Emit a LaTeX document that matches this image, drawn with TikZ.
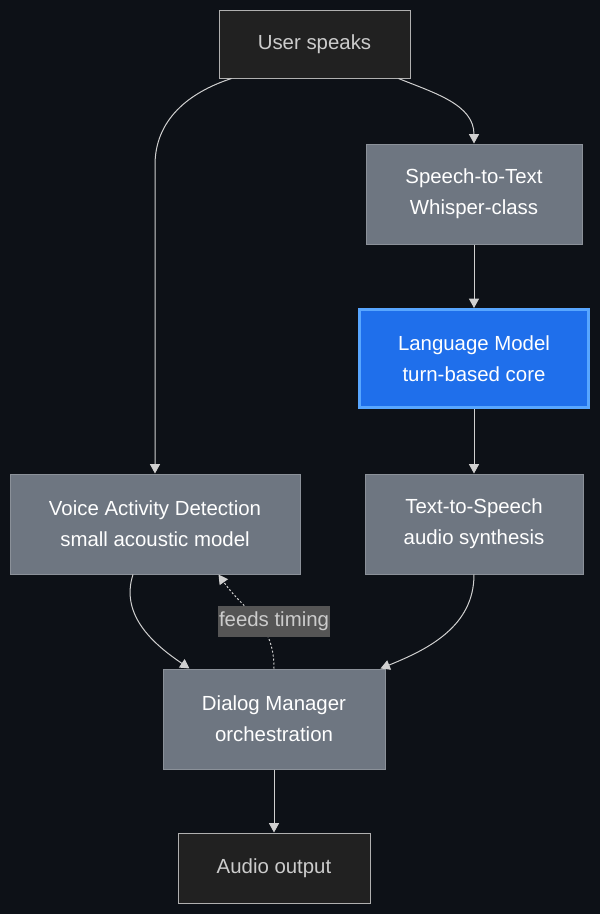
\documentclass[tikz,border=0pt]{standalone}
\usepackage{fontspec}
\setmainfont{Liberation Sans}
\usetikzlibrary{arrows.meta}

\definecolor{pagebg}{HTML}{0D1117}
\definecolor{darkbox}{HTML}{212121}
\definecolor{darkline}{HTML}{B0B0B0}
\definecolor{graybox}{HTML}{6E7681}
\definecolor{grayline}{HTML}{8B9199}
\definecolor{corefill}{HTML}{1F6FEB}
\definecolor{coreline}{HTML}{58A6FF}
\definecolor{edgecol}{HTML}{D0D0D0}
\definecolor{lblfill}{HTML}{555555}

\begin{document}
\begin{tikzpicture}[x=0.75pt,y=-0.75pt,
  box/.style={rectangle,draw,line width=0.75pt,align=center,inner sep=0pt,
    font=\fontsize{15.3}{23.25}\selectfont},
  endbox/.style={box,fill=darkbox,draw=darkline,text=black!20},
  stepbox/.style={box,fill=graybox,draw=grayline,text=white,minimum height=75pt},
  corebox/.style={box,fill=corefill,draw=coreline,line width=2.25pt,text=white,
    minimum width=172pt,minimum height=73.5pt},
  edge/.style={draw=edgecol,line width=0.75pt,-{Triangle[length=7pt,width=7.5pt]},fill=none},
  lbl/.style={fill=lblfill,text=black!20,inner xsep=0.75pt,minimum height=23.25pt,
    font=\fontsize{15.3}{18}\selectfont}]
  \fill[pagebg] (0,0) rectangle (600,914);
  \useasboundingbox (0,0) rectangle (600,914);

  % nodes
  \node[endbox,minimum width=143.25pt,minimum height=51pt] (us) at (314.5,44) {User speaks};
  \node[stepbox,minimum width=162pt] (stt) at (474,194) {Speech-to-Text\\Whisper-class};
  \node[corebox] (lm) at (474,358.5) {Language Model\\turn-based core};
  \node[stepbox,minimum width=217.5pt] (vad) at (155,524) {Voice Activity Detection\\small acoustic model};
  \node[stepbox,minimum width=163.5pt] (tts) at (474,524) {Text-to-Speech\\audio synthesis};
  \node[stepbox,minimum width=166.5pt] (dm) at (274,719) {Dialog Manager\\orchestration};
  \node[endbox,minimum width=144pt,minimum height=52.5pt] (out) at (274,868) {Audio output};

  \coordinate (k1) at (155,165);

  % connectors
  \draw[edge] ([xshift=9.75pt]us.south west) to[out=198,in=90] (k1) -- (vad.north);
  \draw[edge] ([xshift=-9pt]us.south east) to[out=-22,in=90] (stt.north);
  \draw[edge] (stt) -- (lm);
  \draw[edge] (lm) -- (tts);
  \draw[edge] ([xshift=-16.5pt]vad.south) to[out=-108,in=146] ([xshift=20.25pt]dm.north west);
  \draw[edge] (tts.south) to[out=-90,in=22] ([xshift=-3.75pt]dm.north east);
  \draw[edge,dash pattern=on 1.5pt off 1.5pt] (dm.north) to[out=90,in=-55,looseness=1.1]
    ([xshift=-61.5pt]vad.south east);
  \node[lbl] (ft) at (274,621.5) {feeds timing};
  \draw[edge] (dm) -- (out);
\end{tikzpicture}
\end{document}
